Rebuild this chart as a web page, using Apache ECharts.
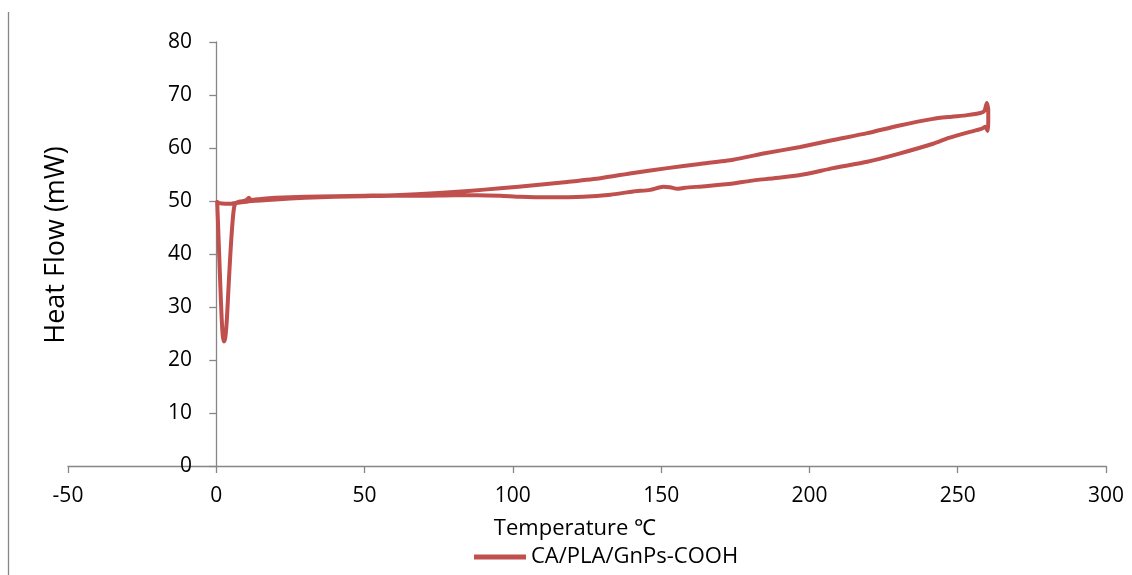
<!DOCTYPE html>
<html>
<head>
<meta charset="utf-8">
<script src="https://cdn.jsdelivr.net/npm/echarts@6/dist/echarts.min.js"></script>
<style>
html,body{margin:0;padding:0;background:#fff;}
#chart{width:1132px;height:575px;}
</style>
</head>
<body>
<div id="chart"></div>
<script>
// Temperature (°C) along the measured loop
const temperature = [
  0.3, 0.6, 1.0, 1.4, 1.8, 2.2, 2.6, 3.1, 3.6, 4.2, 4.8, 5.4, 6.0, 6.6,
  8, 10, 11, 11.5, 12, 15, 20, 30, 40, 50, 60, 75, 85, 95.8, 108, 118.3,
  129.5, 140.6, 152.1, 163, 174.3, 185, 196.9, 208, 219.5, 230, 241.7, 248, 253.2, 257.6,
  259.0, 259.8, 260.3, 260.3, 260.1, 259.3, 258.0, 253.2, 247, 241.7, 230, 219.5, 208,
  196.9, 188, 180, 174.3, 165, 158, 155.4, 153, 150.7, 146.3, 140.6, 133, 123.7, 112,
  102.5, 95.8, 88, 80, 70, 60, 50, 40, 30, 20, 12, 8, 5, 3, 1, 0.3
];
// Heat flow (mW)
const heatFlow = [
  49.8, 45.5, 39.5, 33.5, 28.0, 24.5, 23.5, 24.5, 28.0, 34.5, 40.5, 45.5, 48.8, 49.6,
  49.9, 50.1, 50.6, 50.3, 50.2, 50.4, 50.6, 50.8, 50.9, 51.0, 51.1, 51.5, 51.9, 52.4, 53.0, 53.6,
  54.3, 55.3, 56.2, 57.0, 57.8, 59.0, 60.2, 61.5, 62.8, 64.2, 65.5, 65.9, 66.2, 66.6,
  67.0, 68.5, 67.2, 65.0, 63.2, 64.0, 63.6, 62.9, 61.9, 60.8, 58.9, 57.4, 56.2,
  54.9, 54.3, 53.8, 53.3, 52.8, 52.5, 52.3, 52.6, 52.7, 52.1, 51.8, 51.2, 50.8, 50.7,
  50.8, 51.0, 51.1, 51.1, 51.0, 51.0, 50.9, 50.8, 50.6, 50.3, 50.0, 49.7, 49.5, 49.5, 49.6, 49.8
];
const seriesName = 'CA/PLA/GnPs-COOH';
const xTicks = { min: -50, max: 300, interval: 50 };
const yTicks = { min: 0, max: 80, interval: 10 };

const points = temperature.map((t, i) => [t, heatFlow[i]]);
const font = '"Open Sans", "Liberation Sans", sans-serif';
const axisGray = '#868686';

const chart = echarts.init(document.getElementById('chart'), null, { renderer: 'canvas' });
chart.setOption({
  animation: false,
  backgroundColor: '#fff',
  textStyle: { fontFamily: font },
  grid: { left: 68, right: 26, top: 42, bottom: 109, containLabel: false, outerBoundsMode: 'none' },
  xAxis: {
    type: 'value',
    min: xTicks.min, max: xTicks.max, interval: xTicks.interval,
    name: 'Temperature \u2103',
    nameLocation: 'middle',
    nameGap: 52,
    nameTextStyle: { fontSize: 22, color: '#000', fontFamily: font, padding: [0, 24, 0, 0] },
    axisLine: { onZero: true, lineStyle: { color: axisGray, width: 1.3 } },
    axisTick: { show: true, inside: false, length: 7, lineStyle: { color: axisGray, width: 1.3 } },
    axisLabel: { fontSize: 21, color: '#000', margin: 20, fontFamily: font },
    splitLine: { show: false }
  },
  yAxis: {
    type: 'value',
    min: yTicks.min, max: yTicks.max, interval: yTicks.interval,
    name: 'Heat Flow (mW)',
    nameLocation: 'middle',
    nameGap: -2,
    nameTextStyle: { fontSize: 27, color: '#000', fontFamily: font, padding: [0, 0, 0, 18] },
    axisLine: { onZero: true, lineStyle: { color: axisGray, width: 1.3 } },
    axisTick: { show: true, inside: false, length: 7, lineStyle: { color: axisGray, width: 1.3 } },
    axisLabel: { fontSize: 21, color: '#000', margin: -124, fontFamily: font },
    splitLine: { show: false }
  },
  legend: {
    bottom: 2,
    left: 469,
    itemWidth: 52,
    itemHeight: 5,
    itemGap: 10,
    textStyle: { fontSize: 22, color: '#000', fontFamily: font },
    data: [{ name: seriesName, icon: 'rect' }]
  },
  graphic: [{
    type: 'line',
    shape: { x1: 8.5, y1: 12, x2: 8.5, y2: 575 },
    style: { stroke: axisGray, lineWidth: 1.3 }
  }],
  series: [{
    name: seriesName,
    type: 'line',
    data: points,
    showSymbol: false,
    symbol: 'none',
    smooth: 0.2,
    color: '#C0504D',
    lineStyle: { color: '#C0504D', width: 4, cap: 'round', join: 'round' }
  }]
});
</script>
</body>
</html>
